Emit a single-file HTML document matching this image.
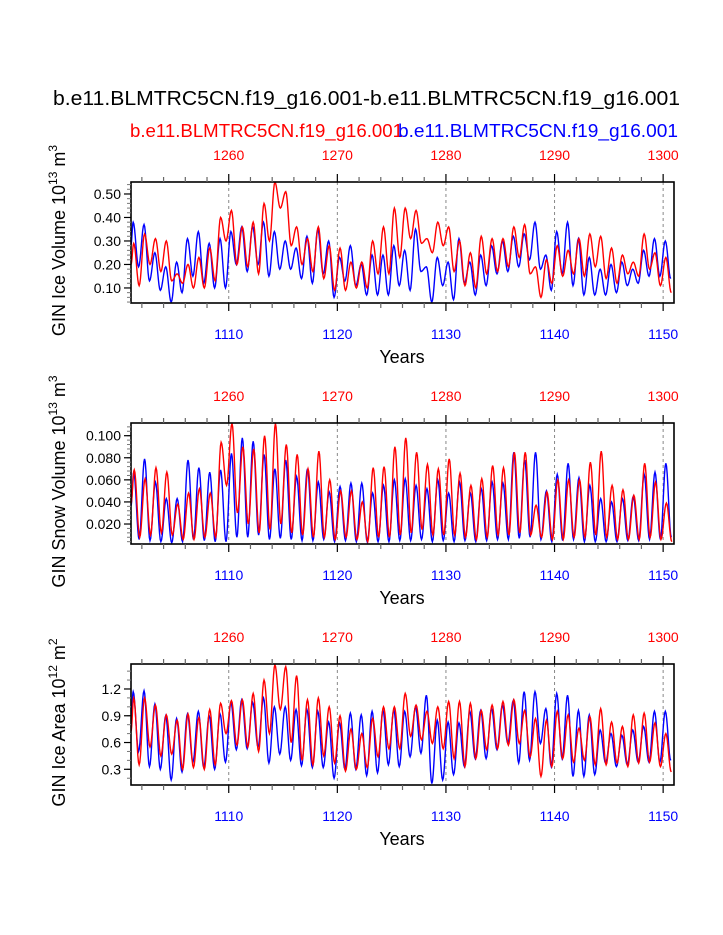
<!DOCTYPE html>
<html><head><meta charset="utf-8"><style>
html,body{margin:0;padding:0;background:#fff;}
svg{display:block;font-family:"Liberation Sans",Arial,sans-serif;}
</style></head><body>
<svg id="chart" width="723" height="935" viewBox="0 0 723 935" xmlns="http://www.w3.org/2000/svg">
<text x="53" y="105" font-size="20" textLength="627" lengthAdjust="spacingAndGlyphs">b.e11.BLMTRC5CN.f19_g16.001-b.e11.BLMTRC5CN.f19_g16.001</text>
<text x="130" y="137" font-size="18" fill="#ff0000" textLength="273" lengthAdjust="spacingAndGlyphs">b.e11.BLMTRC5CN.f19_g16.001</text>
<text x="398" y="137" font-size="18" fill="#0000ff" textLength="280" lengthAdjust="spacingAndGlyphs">b.e11.BLMTRC5CN.f19_g16.001</text>
<g id="plots"></g>
</svg>
<script>
// ---- data (per-year annual maxima / minima, years 1101..1150) ----
const years = [];
for (let y = 1101; y <= 1150; y++) years.push(y);
const topOffset = 150;

const iceVolBluePeak = [0.38,0.37,0.25,0.19,0.21,0.31,0.34,0.29,0.31,0.34,0.36,0.36,0.38,0.34,0.30,0.27,0.32,0.35,0.30,0.23,0.28,0.20,0.24,0.24,0.28,0.26,0.35,0.19,0.23,0.21,0.31,0.21,0.24,0.28,0.30,0.32,0.33,0.38,0.24,0.34,0.38,0.31,0.23,0.18,0.20,0.21,0.18,0.26,0.31,0.30];
const iceVolBlueLow  = [0.19,0.13,0.09,0.04,0.08,0.15,0.12,0.10,0.10,0.20,0.17,0.20,0.15,0.18,0.18,0.14,0.12,0.16,0.06,0.13,0.11,0.07,0.07,0.07,0.11,0.09,0.17,0.04,0.11,0.05,0.12,0.07,0.11,0.16,0.17,0.19,0.22,0.18,0.09,0.16,0.11,0.07,0.07,0.07,0.08,0.11,0.12,0.15,0.15,0.14];
const iceVolRedPeak  = [0.29,0.33,0.31,0.30,0.16,0.20,0.23,0.27,0.40,0.43,0.36,0.38,0.46,0.55,0.51,0.36,0.31,0.36,0.28,0.27,0.21,0.21,0.30,0.36,0.44,0.44,0.43,0.31,0.38,0.36,0.30,0.25,0.32,0.31,0.31,0.36,0.37,0.19,0.22,0.28,0.26,0.31,0.33,0.32,0.27,0.24,0.21,0.33,0.25,0.23];
const iceVolRedLow   = [0.11,0.20,0.17,0.13,0.12,0.10,0.10,0.13,0.30,0.20,0.19,0.16,0.30,0.44,0.28,0.20,0.17,0.14,0.09,0.09,0.10,0.10,0.16,0.16,0.23,0.31,0.29,0.25,0.28,0.17,0.11,0.10,0.16,0.17,0.19,0.23,0.16,0.06,0.12,0.15,0.16,0.15,0.19,0.14,0.12,0.16,0.15,0.18,0.11,0.08];

const snowBluePeak = [0.067,0.079,0.058,0.043,0.043,0.078,0.071,0.067,0.069,0.084,0.098,0.095,0.083,0.070,0.078,0.063,0.070,0.058,0.049,0.054,0.057,0.057,0.048,0.055,0.060,0.061,0.055,0.052,0.060,0.048,0.058,0.048,0.052,0.058,0.057,0.085,0.078,0.085,0.050,0.065,0.075,0.062,0.055,0.043,0.040,0.043,0.045,0.065,0.067,0.075];
const snowBlueLow  = [0.006,0.005,0.004,0.003,0.004,0.006,0.005,0.004,0.004,0.008,0.008,0.010,0.006,0.007,0.006,0.005,0.005,0.006,0.004,0.005,0.004,0.004,0.004,0.004,0.005,0.005,0.006,0.004,0.005,0.004,0.005,0.004,0.005,0.006,0.006,0.007,0.008,0.006,0.004,0.005,0.006,0.004,0.004,0.004,0.004,0.005,0.005,0.006,0.006,0.008];
const snowRedPeak  = [0.069,0.061,0.071,0.067,0.038,0.048,0.052,0.048,0.094,0.111,0.090,0.088,0.100,0.111,0.092,0.083,0.070,0.086,0.060,0.050,0.050,0.040,0.071,0.072,0.090,0.098,0.085,0.074,0.070,0.079,0.066,0.055,0.061,0.073,0.071,0.085,0.085,0.037,0.049,0.060,0.060,0.060,0.076,0.086,0.055,0.051,0.046,0.075,0.058,0.039];
const snowRedLow   = [0.008,0.010,0.012,0.010,0.006,0.006,0.008,0.008,0.055,0.030,0.020,0.012,0.015,0.020,0.012,0.010,0.008,0.008,0.006,0.008,0.006,0.004,0.008,0.008,0.010,0.012,0.015,0.010,0.010,0.010,0.008,0.006,0.008,0.010,0.010,0.012,0.010,0.008,0.006,0.006,0.008,0.008,0.010,0.008,0.006,0.006,0.006,0.008,0.006,0.004];

const areaBluePeak = [1.17,1.18,1.03,0.90,0.87,0.92,0.95,0.90,0.92,1.05,1.08,1.05,1.10,1.00,1.00,0.97,0.97,0.95,0.83,0.82,0.93,0.91,0.95,0.965,0.965,0.95,1.00,1.13,0.85,0.83,0.82,0.95,0.96,0.98,1.02,1.07,1.17,1.17,0.98,1.15,1.13,0.96,0.91,0.74,0.70,0.68,0.74,0.78,0.95,0.95];
const areaBlueLow  = [0.50,0.33,0.30,0.18,0.27,0.38,0.32,0.30,0.38,0.52,0.53,0.55,0.37,0.47,0.40,0.34,0.32,0.32,0.20,0.30,0.30,0.23,0.26,0.35,0.33,0.44,0.48,0.14,0.18,0.24,0.33,0.42,0.42,0.52,0.59,0.37,0.40,0.59,0.33,0.42,0.22,0.22,0.24,0.37,0.33,0.35,0.38,0.38,0.38,0.40];
const areaRedPeak  = [1.10,1.10,1.02,0.91,0.85,0.92,0.88,0.97,1.04,1.07,1.08,1.15,1.30,1.47,1.45,1.35,1.08,1.10,1.00,0.90,0.75,0.70,0.87,1.00,1.00,1.15,1.02,0.95,1.00,1.06,1.06,1.04,0.96,1.02,1.06,1.08,0.96,0.87,0.85,0.95,0.91,0.76,0.89,0.98,0.83,0.78,0.91,0.93,0.82,0.70];
const areaRedLow   = [0.35,0.55,0.45,0.47,0.30,0.32,0.30,0.35,0.70,0.57,0.55,0.50,0.70,0.97,0.60,0.40,0.35,0.45,0.37,0.28,0.30,0.32,0.44,0.53,0.53,0.67,0.63,0.59,0.53,0.42,0.33,0.42,0.52,0.53,0.57,0.59,0.44,0.22,0.33,0.42,0.38,0.40,0.35,0.35,0.37,0.33,0.37,0.38,0.33,0.27];

const xTicks = [1110,1120,1130,1140,1150];

const panels = [
  {name:'ice-volume', top:182, bottom:303, ymin:0.036, ymax:0.551, major:[0.10,0.20,0.30,0.40,0.50], fmt:v=>v.toFixed(2), minorStep:0.02,
   label:['GIN Ice Volume 10','13',' m','3'], blue:[iceVolBluePeak,iceVolBlueLow], red:[iceVolRedPeak,iceVolRedLow], peakPhase:0.2},
  {name:'snow-volume', top:423, bottom:544, ymin:0.0019, ymax:0.1115, major:[0.020,0.040,0.060,0.080,0.100], fmt:v=>v.toFixed(3), minorStep:0.004,
   label:['GIN Snow Volume 10','13',' m','3'], blue:[snowBluePeak,snowBlueLow], red:[snowRedPeak,snowRedLow], peakPhase:0.25},
  {name:'ice-area', top:664, bottom:785, ymin:0.124, ymax:1.48, major:[0.3,0.6,0.9,1.2], fmt:v=>v.toFixed(1), minorStep:0.1,
   label:['GIN Ice Area 10','12',' m','2'], blue:[areaBluePeak,areaBlueLow], red:[areaRedPeak,areaRedLow], peakPhase:0.2}
];

const X0 = 131, X1 = 674, XMIN = 1101, XMAX = 1151;
const NS = 'http://www.w3.org/2000/svg';
function xs(t){ return X0 + (t - XMIN) / (XMAX - XMIN) * (X1 - X0); }
function mk(tag, attrs, parent){ const e = document.createElementNS(NS, tag); for (const k in attrs) e.setAttribute(k, attrs[k]); parent.appendChild(e); return e; }
const root = document.getElementById('plots');

function seriesPath(peaks, lows, phase, ys){
  const ext = [];
  for (let i = 0; i < years.length; i++){
    ext.push([years[i] + phase, peaks[i]]);
    ext.push([years[i] + phase + 0.5, lows[i]]);
  }
  let d = '';
  const start = [XMIN, (peaks[0] + lows[0]) / 2];
  const pts = [start].concat(ext);
  for (let k = 0; k < pts.length - 1; k++){
    const [t0, v0] = pts[k], [t1, v1] = pts[k+1];
    const n = 8;
    for (let j = (k === 0 ? 0 : 1); j <= n; j++){
      const f = j / n, w = (1 - Math.cos(Math.PI * f)) / 2;
      const t = t0 + (t1 - t0) * f;
      if (t > XMAX) break;
      const v = v0 + (v1 - v0) * w;
      d += (d ? 'L' : 'M') + xs(t).toFixed(2) + ',' + ys(v).toFixed(2);
    }
  }
  return d;
}

panels.forEach(p => {
  const g = mk('g', {}, root);
  
  
  const ys = v => p.bottom - (v - p.ymin) / (p.ymax - p.ymin) * (p.bottom - p.top);
  xTicks.forEach(t => {
    const l = mk('line', {x1:xs(t), x2:xs(t), y1:p.top, y2:p.bottom, stroke:'#888', 'stroke-width':1, 'stroke-dasharray':'3,3'}, g);
    
    
  });
  const cid = 'clip-' + p.name;
  const cp = mk('clipPath', {id:cid}, g);
  mk('rect', {x:X0, y:p.top, width:X1-X0, height:p.bottom-p.top}, cp);
  const blue = mk('path', {d:seriesPath(p.blue[0], p.blue[1], p.peakPhase, ys), fill:'none', stroke:'#0000ff', 'stroke-width':1.4, 'clip-path':'url(#'+cid+')'}, g);
  
  
  const red = mk('path', {d:seriesPath(p.red[0], p.red[1], p.peakPhase + 0.05, ys), fill:'none', stroke:'#ff0000', 'stroke-width':1.4, 'clip-path':'url(#'+cid+')'}, g);
  
  
  const fr = mk('rect', {x:X0, y:p.top, width:X1-X0, height:p.bottom-p.top, fill:'none', stroke:'#000', 'stroke-width':1.6}, g);
  
  
  for (let yr = 1102; yr <= 1150; yr += 2){
    const major = yr % 10 === 0;
    const len = major ? 8 : 5;
    mk('line', {x1:xs(yr), x2:xs(yr), y1:p.top, y2:p.top-len, stroke: major?'#000':'#666', 'stroke-width':1.2}, g);
    mk('line', {x1:xs(yr), x2:xs(yr), y1:p.bottom, y2:p.bottom+len, stroke: major?'#000':'#666', 'stroke-width':1.2}, g);
  }
  xTicks.forEach(t => {
    const tb = mk('text', {x:xs(t), y:p.bottom+36, 'font-size':14, fill:'#0000ff', 'text-anchor':'middle'}, g);
    tb.textContent = t;
    
    
    const tt = mk('text', {x:xs(t), y:p.top-22, 'font-size':14, fill:'#ff0000', 'text-anchor':'middle'}, g);
    tt.textContent = t + topOffset;
    
    
  });
  const startM = Math.ceil(p.ymin / p.minorStep - 1e-6);
  for (let k = startM; k * p.minorStep <= p.ymax + 1e-9; k++){
    const v = k * p.minorStep;
    mk('line', {x1:X0, x2:X0-4, y1:ys(v), y2:ys(v), stroke:'#777', 'stroke-width':1}, g);
  }
  p.major.forEach(v => {
    mk('line', {x1:X0, x2:X0-7, y1:ys(v), y2:ys(v), stroke:'#000', 'stroke-width':1.2}, g);
    const tl = mk('text', {x:X0-10, y:ys(v)+5, 'font-size':14, 'text-anchor':'end'}, g);
    tl.textContent = p.fmt(v);
    
    
  });
  const xt = mk('text', {x:402, y:p.bottom+60, 'font-size':18, 'text-anchor':'middle'}, g);
  xt.textContent = 'Years';
  
  
  const cy = (p.top + p.bottom) / 2 - 2;
  const yt = mk('text', {x:0, y:0, 'font-size':18, 'text-anchor':'middle', transform:'translate(65,'+cy+') rotate(-90)'}, g);
  
  
  const parts = p.label;
  const s1 = mk('tspan', {}, yt); s1.textContent = parts[0];
  const s2 = mk('tspan', {dy:-8, 'font-size':12}, yt); s2.textContent = parts[1];
  const s3 = mk('tspan', {dy:8}, yt); s3.textContent = parts[2];
  const s4 = mk('tspan', {dy:-8, 'font-size':12}, yt); s4.textContent = parts[3];
});
</script>
</body></html>
